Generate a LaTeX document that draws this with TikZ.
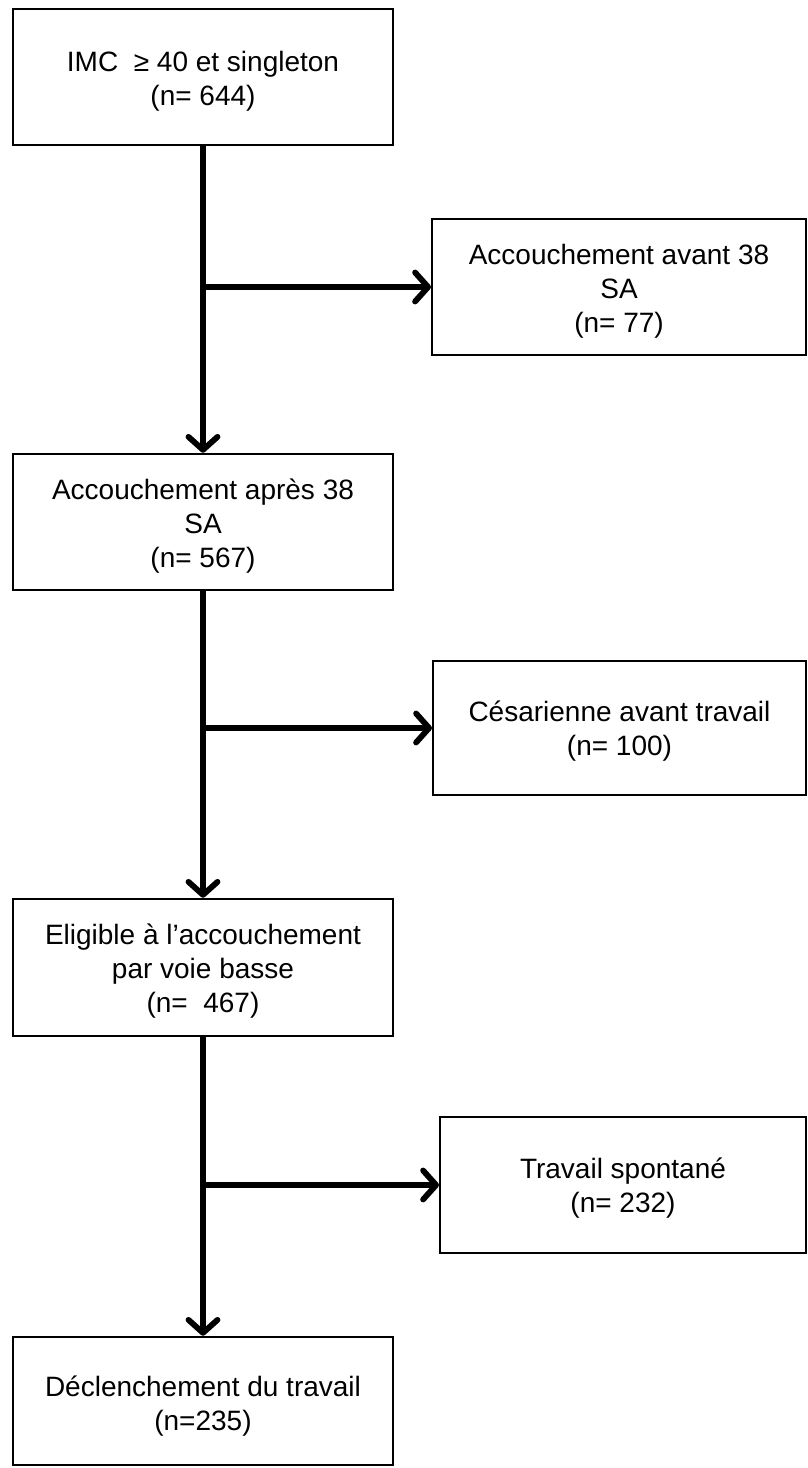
\documentclass[tikz,border=0pt]{standalone}
\usepackage{fontspec}
\setmainfont{Liberation Sans}
\usetikzlibrary{arrows.meta}
\begin{document}
\begin{tikzpicture}[x=1pt,y=-1pt,
  txt/.style={font=\fontsize{28}{34}\selectfont, align=center, inner sep=0pt},
  lbox/.style={draw=black, line width=2.5pt, minimum width=380pt, inner sep=0pt},
  rbox/.style={draw=black, line width=2pt, inner sep=0pt},
  arr/.style={line width=5.8pt, -{Straight Barb[length=13pt,width=29pt,round]}}
]
\useasboundingbox (0,0) rectangle (808,1468);
% main column boxes
\node[lbox, minimum height=136pt] (b1) at (203,77) {};
\node[lbox, minimum height=136pt] (b2) at (203,522) {};
\node[lbox, minimum height=137pt] (b3) at (203,967.5) {};
\node[lbox, minimum height=128pt] (b4) at (203,1401) {};
% side boxes
\node[rbox, minimum width=374pt, minimum height=136pt] (r1) at (619,287) {};
\node[rbox, minimum width=373pt, minimum height=134pt] (r2) at (619.5,728) {};
\node[rbox, minimum width=366pt, minimum height=136pt] (r3) at (623,1185) {};
% texts
\node[txt] (t1) at ([yshift=-4pt]b1.center) {IMC\ \ ≥ 40 et singleton\\(n= 644)};
\node[txt] (t2) at ([yshift=-4pt]b2.center) {Accouchement après 38\\SA\\(n= 567)};
\node[txt] (t3) at ([yshift=-4pt]b3.center) {Eligible à l’accouchement\\par voie basse\\(n=\ \ 467)};
\node[txt] (t4) at ([yshift=-5pt]b4.center) {Déclenchement du travail\\(n=235)};
\node[txt] (tr1) at ([yshift=-4pt]r1.center) {Accouchement avant 38\\SA\\(n= 77)};
\node[txt] (tr2) at ([yshift=-3pt]r2.center) {Césarienne avant travail\\(n= 100)};
\node[txt] (tr3) at ([yshift=-3pt]r3.center) {Travail spontané\\(n= 232)};
% trunk connectors
\draw[arr] (b1.south) -- (b2.north);
\draw[arr] (b2.south) -- (b3.north);
\draw[arr] (b3.south) -- (b4.north);
% branch points
\coordinate (j1) at (b1.south |- r1.west);
\coordinate (j2) at (b2.south |- r2.west);
\coordinate (j3) at (b3.south |- r3.west);
\draw[arr] (j1) -- (r1.west);
\draw[arr] (j2) -- (r2.west);
\draw[arr] (j3) -- (r3.west);
\end{tikzpicture}
\end{document}
